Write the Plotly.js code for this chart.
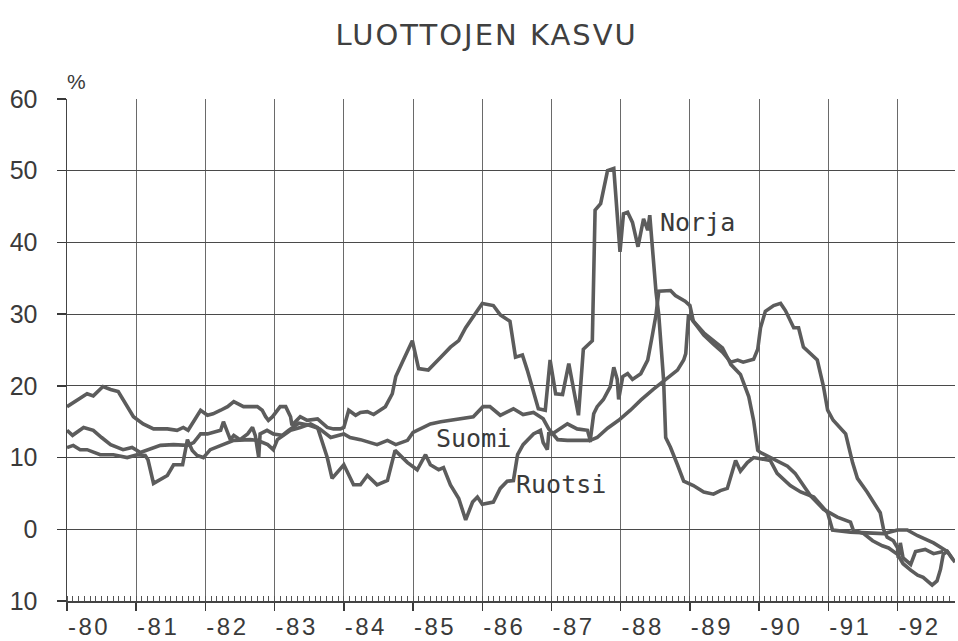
<!DOCTYPE html>
<html>
<head>
<meta charset="utf-8">
<script src="https://cdn.plot.ly/plotly-3.0.1.min.js"></script>
<style>
html,body{margin:0;padding:0;background:#fff;}
#chart{width:958px;height:641px;}
#chart .gtitle{letter-spacing:2px;}
#chart .xtick text{letter-spacing:2.5px;}
</style>
</head>
<body>
<div id="chart"></div>
<script>
// Credit growth, % (year-on-year), monthly readings
const norjaYears = [1980.00,1980.19,1980.29,1980.38,1980.52,1980.63,1980.74,1980.96,1981.10,1981.25,1981.45,1981.59,1981.68,1981.75,1981.93,1982.03,1982.11,1982.22,1982.32,1982.41,1982.48,1982.55,1982.75,1982.82,1982.87,1982.91,1982.97,1983.08,1983.16,1983.23,1983.25,1983.37,1983.47,1983.62,1983.76,1983.85,1983.95,1984.00,1984.07,1984.17,1984.24,1984.34,1984.43,1984.60,1984.70,1984.75,1984.86,1984.99,1985.08,1985.22,1985.40,1985.54,1985.66,1985.76,1985.93,1986.00,1986.16,1986.26,1986.40,1986.48,1986.58,1986.65,1986.81,1986.91,1986.98,1987.06,1987.16,1987.25,1987.39,1987.46,1987.59,1987.63,1987.71,1987.81,1987.90,1987.99,1988.04,1988.10,1988.17,1988.25,1988.33,1988.39,1988.42,1988.46,1988.51,1988.55,1988.58,1988.62,1988.65,1988.72,1988.82,1988.91,1989.05,1989.20,1989.34,1989.44,1989.54,1989.62,1989.66,1989.73,1989.83,1989.92,1990.05,1990.16,1990.26,1990.45,1990.60,1990.79,1990.99,1991.06,1991.32,1991.80,1992.00,1992.14,1992.29,1992.52,1992.72,1992.81,1992.83];
const norjaValues = [17.1,18.2,18.9,18.6,19.9,19.5,19.2,15.7,14.7,14.0,14.0,13.8,14.2,13.8,16.6,15.9,16.1,16.6,17.1,17.8,17.4,17.1,17.1,16.6,15.7,15.2,15.7,17.1,17.1,15.7,14.5,15.7,15.2,15.4,14.2,14.0,14.0,14.2,16.6,15.9,16.3,16.4,16.0,17.1,18.9,21.3,23.6,26.3,22.4,22.2,24.0,25.4,26.3,28.1,30.5,31.5,31.2,29.9,29.0,24.0,24.3,22.2,16.8,16.6,23.6,18.9,18.8,23.1,15.9,25.1,26.3,44.5,45.4,50.0,50.3,38.7,44.0,44.2,42.8,39.4,43.3,41.7,43.8,38.9,33.1,29.9,25.3,20.8,12.8,11.4,9.0,6.7,6.1,5.2,4.9,5.4,5.7,8.6,9.6,8.1,9.3,10.0,9.8,9.6,7.8,6.1,5.2,4.5,2.3,-0.1,-0.4,-0.6,-0.1,-0.1,-0.9,-1.9,-3.1,-4.2,-4.6];

const suomiYears = [1980.00,1980.08,1980.24,1980.38,1980.50,1980.63,1980.81,1980.94,1981.06,1981.16,1981.35,1981.54,1981.74,1981.83,1981.93,1982.03,1982.11,1982.22,1982.26,1982.32,1982.36,1982.41,1982.50,1982.61,1982.68,1982.72,1982.77,1982.79,1982.89,1982.98,1983.11,1983.20,1983.35,1983.50,1983.65,1983.81,1984.00,1984.09,1984.24,1984.48,1984.63,1984.75,1984.92,1985.00,1985.25,1985.40,1985.64,1985.87,1986.01,1986.11,1986.26,1986.45,1986.59,1986.74,1986.88,1986.96,1987.09,1987.23,1987.42,1987.56,1987.61,1987.66,1987.75,1987.85,1987.90,1987.95,1987.97,1988.03,1988.10,1988.17,1988.29,1988.39,1988.46,1988.51,1988.55,1988.72,1988.79,1988.93,1989.00,1989.05,1989.20,1989.34,1989.47,1989.56,1989.59,1989.73,1989.85,1989.92,1989.98,1990.02,1990.16,1990.31,1990.41,1990.52,1990.62,1990.74,1990.93,1991.03,1991.13,1991.32,1991.36,1991.51,1991.64,1991.78,1991.87,1992.00,1992.08,1992.19,1992.29,1992.37,1992.50,1992.57,1992.62,1992.66,1992.72,1992.80];
const suomiValues = [13.8,13.1,14.2,13.8,12.8,11.8,11.1,11.4,10.7,11.0,11.7,11.8,11.7,12.1,13.3,13.3,13.5,13.8,15.0,13.5,12.5,13.1,12.5,13.3,14.2,13.1,10.0,13.3,13.8,13.3,13.1,13.8,14.8,14.5,14.0,12.8,13.3,12.8,12.5,11.8,12.4,11.8,12.4,13.5,14.7,15.0,15.3,15.7,17.1,17.1,15.9,16.8,16.0,16.3,15.4,14.0,12.5,12.4,12.4,12.4,16.1,17.1,18.1,19.9,22.6,20.9,18.1,21.3,21.7,20.9,21.7,23.6,27.2,29.9,33.2,33.3,32.6,31.8,31.2,29.0,27.4,26.3,25.3,23.6,23.0,21.6,18.5,15.2,11.0,10.7,10.0,9.3,8.8,7.8,6.3,4.7,2.8,2.3,1.7,1.0,-0.1,-0.6,-1.6,-2.3,-2.6,-3.5,-4.8,-5.7,-6.4,-6.7,-7.8,-7.2,-5.6,-3.5,-3.1,-4.2];

const ruotsiYears = [1980.00,1980.09,1980.19,1980.29,1980.48,1980.67,1980.87,1981.01,1981.13,1981.17,1981.25,1981.45,1981.54,1981.67,1981.74,1981.81,1981.88,1981.97,1982.07,1982.22,1982.41,1982.65,1982.75,1982.90,1982.98,1983.04,1983.13,1983.23,1983.37,1983.52,1983.62,1983.76,1983.83,1984.00,1984.14,1984.24,1984.34,1984.48,1984.63,1984.74,1984.92,1985.06,1985.18,1985.25,1985.37,1985.44,1985.54,1985.66,1985.76,1985.86,1985.93,1986.00,1986.16,1986.26,1986.36,1986.45,1986.51,1986.59,1986.74,1986.84,1986.88,1986.94,1986.96,1987.01,1987.09,1987.23,1987.37,1987.52,1987.56,1987.66,1987.81,1987.97,1988.14,1988.29,1988.47,1988.67,1988.82,1988.91,1988.94,1988.98,1989.04,1989.20,1989.34,1989.47,1989.59,1989.69,1989.77,1989.92,1989.98,1990.02,1990.09,1990.21,1990.31,1990.38,1990.50,1990.57,1990.64,1990.79,1990.84,1990.93,1990.99,1991.07,1991.20,1991.25,1991.35,1991.42,1991.56,1991.75,1991.80,1991.85,1991.94,1992.00,1992.01,1992.04,1992.08,1992.19,1992.26,1992.40,1992.52,1992.66];
const ruotsiValues = [11.4,11.7,11.1,11.1,10.4,10.4,10.0,10.4,10.3,9.7,6.4,7.5,9.0,9.0,12.5,11.0,10.3,10.0,11.1,11.7,12.4,12.5,12.4,11.8,11.1,12.5,13.1,13.8,14.2,14.7,14.2,10.0,7.1,9.0,6.2,6.2,7.5,6.2,6.8,11.0,9.3,8.3,10.4,9.0,8.3,8.6,6.2,4.3,1.3,3.8,4.5,3.5,3.8,5.7,6.7,6.8,10.4,11.8,13.3,13.8,12.1,11.1,13.3,13.3,13.8,14.7,14.0,13.8,12.4,12.8,14.1,15.2,16.6,18.0,19.5,21.0,22.2,23.6,24.5,29.9,29.1,27.1,25.8,24.7,23.3,23.6,23.3,23.7,25.1,28.1,30.4,31.2,31.5,30.5,28.1,28.1,25.4,24.0,23.6,19.9,16.6,15.2,13.8,13.3,9.3,7.1,5.2,2.3,-0.1,-1.1,-1.6,-2.6,-4.0,-1.9,-4.0,-4.9,-3.1,-2.8,-3.4,-3.1];

const yearTicks = [1980,1981,1982,1983,1984,1985,1986,1987,1988,1989,1990,1991,1992];
const yearLabels = ['-80','-81','-82','-83','-84','-85','-86','-87','-88','-89','-90','-91','-92'];
const valueTicks = [-10,0,10,20,30,40,50,60];
const valueLabels = ['10','0','10','20','30','40','50','60'];
const seriesNames = ['Norja','Suomi','Ruotsi'];
const labelPos = {Norja:[1989.11,42.8], Suomi:[1985.87,12.7], Ruotsi:[1987.14,6.2]};

const lineStyle = {color:'#5c5c5c', width:3.6};
const series = [[norjaYears,norjaValues],[suomiYears,suomiValues],[ruotsiYears,ruotsiValues]];
const traces = series.map((s,i)=>({
  x:s[0], y:s[1], name:seriesNames[i], type:'scatter', mode:'lines',
  line:lineStyle, hoverinfo:'skip'
}));

const ink = '#3a3a3a';
const layout = {
  width:958, height:641,
  margin:{l:67, r:3, t:99, b:40},
  paper_bgcolor:'#ffffff', plot_bgcolor:'#ffffff',
  showlegend:false,
  title:{text:'LUOTTOJEN KASVU', x:0.508, xref:'container', y:0.945, yref:'container', yanchor:'middle', xanchor:'center',
    font:{family:'DejaVu Sans, sans-serif', size:29, color:'#404040'}},
  xaxis:{
    range:[1980,1992.83], tickvals:yearTicks, ticktext:yearLabels,
    ticks:'outside', ticklen:8, tickwidth:1.5, tickcolor:ink,
    showgrid:true, gridcolor:'#6a6a6a', gridwidth:1,
    zeroline:false, showline:true, linecolor:'#444', linewidth:2,
    ticklabelshift:22, ticklabelstandoff:-5,
    tickfont:{family:'Liberation Sans, Arial, sans-serif', size:24, color:ink},
    minor:{dtick:1/12, tick0:1980, ticks:'inside', ticklen:5, tickwidth:1, tickcolor:'#555', showgrid:false}
  },
  yaxis:{
    range:[-10,60], tickvals:valueTicks, ticktext:valueLabels,
    ticks:'outside', ticklen:9, tickwidth:1.5, tickcolor:ink,
    showgrid:true, gridcolor:'#4a4a4a', gridwidth:1.2,
    zeroline:false, showline:true, linecolor:'#444', linewidth:1.5,
    ticklabelstandoff:14,
    tickfont:{family:'Liberation Sans, Arial, sans-serif', size:25, color:ink}
  },
  annotations:[
    {text:'%', xref:'paper', yref:'paper', x:0.0, y:1, xanchor:'left', yanchor:'bottom', yshift:4, xshift:-2, showarrow:false,
     font:{family:'Liberation Sans, Arial, sans-serif', size:21, color:ink}}
  ].concat(seriesNames.map(n=>({
     text:n, x:labelPos[n][0], y:labelPos[n][1], xref:'x', yref:'y', showarrow:false,
     xanchor:'center', yanchor:'middle',
     font:{family:'DejaVu Sans Mono, monospace', size:25, color:ink}
  })))
};

Plotly.newPlot('chart', traces, layout, {displayModeBar:false, staticPlot:true});
</script>
</body>
</html>
